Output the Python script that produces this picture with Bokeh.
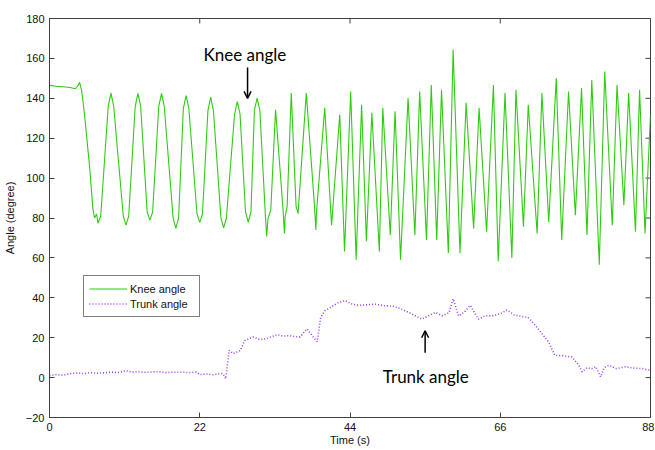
from bokeh.plotting import figure
from bokeh.models import (Range1d, FixedTicker, Legend, LegendItem,
                          Label, Arrow, OpenHead)
from bokeh.embed import file_html
from bokeh.resources import INLINE

# ---------------- data ----------------
x_ticks = [0, 22, 44, 66, 88]
y_ticks = [-20, 0, 20, 40, 60, 80, 100, 120, 140, 160, 180]

# knee angle: turning points (time s, angle deg)
knee_points = [
    (0.0, 146.5), (1.0, 146.0), (2.0, 145.8), (3.0, 145.4), (3.8, 144.8),
    (4.2, 146.5), (4.4, 148.0), (4.7, 144.0), (5.1, 132.8), (5.9, 104.6),
    (6.35, 84.7), (6.6, 80.0), (6.9, 82.0), (7.1, 77.3), (7.5, 81.0),
    (8.6, 136.0), (9.0, 142.6), (9.4, 136.0),
    (10.8, 81.0), (11.2, 76.4), (11.6, 81.0),
    (12.55, 136.0), (12.95, 142.5), (13.35, 136.0),
    (14.3, 83.0), (14.7, 78.9), (15.1, 83.0),
    (16.0, 136.0), (16.4, 142.5), (16.8, 136.0),
    (18.1, 80.0), (18.5, 74.8), (18.9, 80.0),
    (19.6, 135.0), (20.0, 141.3), (20.4, 135.0),
    (21.6, 82.0), (22.0, 77.8), (22.4, 82.0),
    (23.2, 134.0), (23.6, 140.6), (24.0, 134.0),
    (25.1, 80.0), (25.5, 75.1), (25.9, 80.0),
    (27.1, 132.0), (27.5, 138.5), (27.9, 132.0),
    (28.7, 83.0), (29.1, 78.0), (29.5, 83.0),
    (30.0, 134.0), (30.4, 140.1), (30.8, 134.0),
    (31.6, 82.0), (31.8, 70.8), (32.0, 79.8), (32.4, 84.0),
    (33.1, 134.3),
    (34.2, 84.0), (34.4, 72.3), (34.5, 80.6), (34.8, 86.0),
    (35.4, 142.6),
    (36.1, 86.0), (36.4, 82.2),
    (37.6, 142.6),
    (38.8, 86.0), (39.0, 74.0), (39.1, 83.1),
    (40.3, 135.2), (41.3, 76.4), (42.5, 131.9), (43.2, 63.2),
    (44.1, 143.4), (44.9, 59.1), (45.7, 136.8), (46.4, 68.3),
    (47.2, 132.7), (48.3, 63.2), (48.8, 135.2), (49.9, 71.5),
    (50.6, 133.5), (51.4, 59.1), (52.5, 140.1), (53.5, 71.5),
    (54.2, 143.4), (55.2, 69.0), (55.9, 146.7), (56.7, 69.0),
    (57.4, 144.3), (58.4, 62.4), (59.1, 164.5), (60.1, 62.4),
    (61.0, 137.7), (62.1, 74.8), (62.9, 135.2), (64.0, 73.1),
    (65.0, 146.7), (65.7, 58.3), (66.7, 142.6), (67.7, 59.9),
    (68.3, 144.3), (69.4, 75.6), (70.1, 136.8), (71.4, 72.3),
    (72.1, 142.6), (73.1, 78.0), (74.2, 150.1), (75.0, 69.0),
    (76.0, 143.4), (77.0, 81.4), (77.9, 145.1), (78.7, 71.5),
    (79.4, 149.2), (80.5, 56.6), (81.3, 153.4), (82.4, 76.4),
    (83.1, 146.7), (84.1, 86.4), (84.8, 142.6), (85.8, 73.1),
    (86.4, 144.3), (87.2, 72.3), (88.0, 131.9),
]

# trunk angle (time s, angle deg)
trunk_points = [
    (0.0, 1.0), (1.0, 1.5), (2.0, 1.2), (3.0, 2.0), (4.0, 2.3), (5.0, 2.0),
    (6.0, 2.5), (7.0, 2.2), (8.0, 2.4), (9.0, 2.8), (10.0, 2.5), (11.2, 3.5),
    (12.0, 2.8), (13.0, 3.0), (14.0, 2.6), (15.0, 2.8), (16.0, 3.0), (17.0, 2.5),
    (18.0, 2.7), (19.5, 2.7), (20.5, 2.5), (21.5, 2.8), (22.0, 1.5), (23.0, 1.8),
    (24.0, 1.4), (25.0, 2.0), (25.4, 2.0), (25.8, -0.6), (26.3, 13.7), (26.9, 12.0),
    (27.9, 13.5), (28.6, 18.6), (29.8, 20.4), (30.8, 19.0), (31.8, 19.5), (32.5, 20.5),
    (33.3, 21.5), (34.2, 20.8), (35.2, 21.0), (36.0, 20.5), (36.7, 20.4), (37.7, 24.4),
    (38.6, 20.4), (39.2, 18.0), (39.7, 30.1), (40.3, 33.5), (41.1, 35.1), (42.3, 37.6),
    (43.3, 38.6), (44.2, 37.0), (45.2, 36.2), (46.5, 36.5), (47.7, 36.8), (49.0, 36.0),
    (50.1, 35.9), (51.0, 35.0), (52.1, 33.5), (53.3, 31.5), (54.5, 29.3), (55.5, 31.0),
    (56.5, 32.6), (57.5, 31.0), (58.5, 32.5), (59.1, 39.5), (59.9, 30.9), (60.8, 33.0),
    (61.6, 36.2), (62.8, 29.3), (63.8, 31.0), (64.8, 30.9), (66.0, 32.0), (67.0, 33.9),
    (68.0, 31.5), (68.7, 30.9), (70.1, 30.1), (71.6, 24.3), (73.1, 17.7), (74.0, 11.1),
    (75.2, 11.0), (76.5, 10.3), (77.5, 6.2), (78.0, 2.9), (78.7, 5.0), (79.4, 4.5),
    (80.0, 5.5), (80.7, 0.3), (81.2, 5.0), (81.9, 6.2), (83.0, 4.5), (84.3, 5.4),
    (85.5, 4.8), (86.8, 4.5), (88.0, 3.7),
]

knee_t = [p[0] for p in knee_points]
knee_v = [p[1] for p in knee_points]
trunk_t = [p[0] for p in trunk_points]
trunk_v = [p[1] for p in trunk_points]

# ---------------- styling ----------------
AX = "#404040"
FONT = "Liberation Sans"
X0, X1, Y0, Y1 = 0, 88, -20, 180

p = figure(width=654, height=448, output_backend="svg", toolbar_location=None,
           x_range=Range1d(X0, X1), y_range=Range1d(Y0, Y1),
           min_border_top=18, min_border_right=4, min_border_left=4,
           background_fill_color="white", border_fill_color="white")
p.grid.visible = False
p.outline_line_color = AX
p.outline_line_width = 1

for ax in (p.xaxis[0], p.yaxis[0]):
    ax.axis_line_color = AX
    ax.major_tick_line_color = AX
    ax.major_tick_in = 5
    ax.major_tick_out = 0
    ax.minor_tick_line_color = None
    ax.major_label_text_font = FONT
    ax.major_label_text_font_size = "11px"
    ax.major_label_text_color = "#111111"
    ax.axis_label_text_font = FONT
    ax.axis_label_text_font_size = "11px"
    ax.axis_label_text_font_style = "normal"
    ax.axis_label_text_color = "#111111"

p.xaxis.ticker = FixedTicker(ticks=x_ticks)
p.yaxis.ticker = FixedTicker(ticks=y_ticks)
p.xaxis.axis_label = "Time (s)"
p.yaxis.axis_label = "Angle (degree)"
p.xaxis.major_label_standoff = 5
p.xaxis.axis_label_standoff = 0
p.yaxis.major_label_standoff = 5
p.yaxis.axis_label_standoff = 7

# mirrored inward ticks on the top and right edges of the box
p.segment(x0=x_ticks, y0=[Y1] * len(x_ticks), x1=x_ticks, y1=[Y1 - 2.5] * len(x_ticks),
          line_color=AX, line_width=1)
p.segment(x0=[X1] * len(y_ticks), y0=y_ticks, x1=[X1 - 0.73] * len(y_ticks), y1=y_ticks,
          line_color=AX, line_width=1)

knee = p.line(knee_t, knee_v, line_color="#2ecc10", line_width=1.1)
trunk = p.line(trunk_t, trunk_v, line_color="#9a40f0", line_width=1.6, line_dash="1 2")

legend = Legend(items=[LegendItem(label="Knee angle", renderers=[knee]),
                       LegendItem(label="Trunk angle", renderers=[trunk])],
                location=(34, 100), orientation="vertical",
                border_line_color="black", border_line_width=1,
                background_fill_color="white", background_fill_alpha=1,
                label_text_font=FONT, label_text_font_size="11px",
                label_text_color="#111111",
                glyph_width=38, glyph_height=15, label_height=15, label_width=64,
                label_standoff=3, padding=5, spacing=0, margin=0)
p.add_layout(legend, "center")

p.add_layout(Label(x=28.6, y=162.0, text="Knee angle", text_align="center",
                   text_baseline="middle", text_font="Lato", text_font_size="17px",
                   text_color="black"))
p.add_layout(Arrow(end=OpenHead(size=7, line_width=1.5, line_color="black"),
                   x_start=29.0, y_start=155.5, x_end=29.0, y_end=140.0,
                   line_width=1.5, line_color="black"))
p.add_layout(Label(x=55.1, y=0.8, text="Trunk angle", text_align="center",
                   text_baseline="middle", text_font="Lato", text_font_size="17px",
                   text_color="black"))
p.add_layout(Arrow(end=OpenHead(size=7, line_width=1.5, line_color="black"),
                   x_start=55.0, y_start=12.4, x_end=55.0, y_end=23.5,
                   line_width=1.5, line_color="black"))

open("out.html", "w").write(file_html(p, INLINE))
